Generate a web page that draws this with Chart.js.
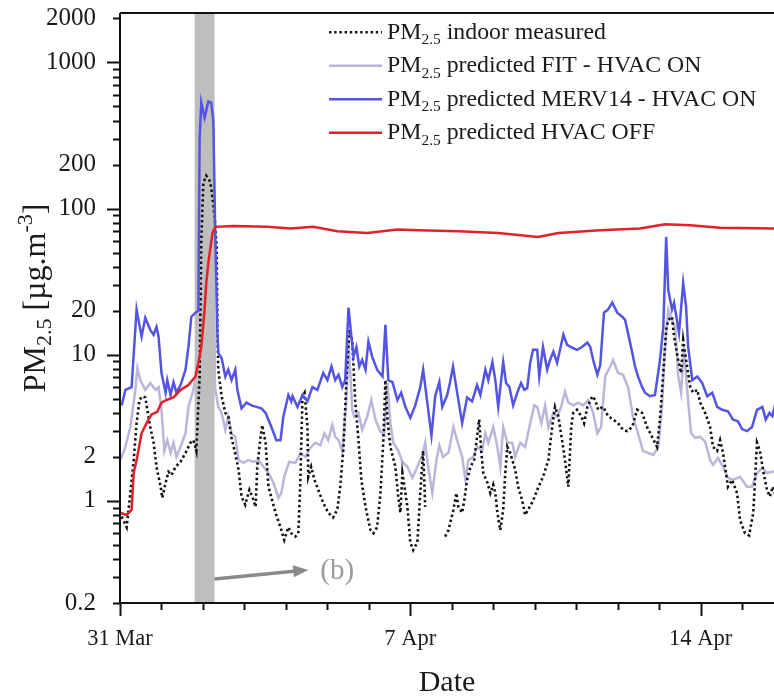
<!DOCTYPE html>
<html>
<head>
<meta charset="utf-8">
<script src="https://cdn.jsdelivr.net/npm/chart.js@4.4.1/dist/chart.umd.min.js"></script>
<style>
  html, body { margin: 0; padding: 0; background: #fff; }
  #pmChart { display: block; }
</style>
</head>
<body>
<canvas id="pmChart" width="774" height="698"></canvas>
<script>
// days since 31 Mar 00:00, PM2.5 in ug/m3
const seriesNames = [
    "PM2.5 indoor measured",
    "PM2.5 predicted FIT - HVAC ON",
    "PM2.5 predicted MERV14 - HVAC ON",
    "PM2.5 predicted HVAC OFF"
];

const xTickDays = [0, 7, 14];
const xTickLabels = ["31 Mar", "7 Apr", "14 Apr"];
const yTickValues = [0.2, 1, 2, 10, 20, 100, 200, 1000, 2000];
const yTickLabels = ["0.2", "1", "2", "10", "20", "100", "200", "1000", "2000"];

// shaded event window (days)
const bandDays = [1.80, 2.28];

const measured = [
    [0.04,0.78],[0.16,0.66],[0.25,1.13],[0.33,1.9],[0.40,3.4],[0.47,4.9],[0.54,5.2],[0.61,5.1],[0.66,4.2],[0.73,3.2],
    [0.81,2.5],[0.88,1.71],[0.98,1.25],[1.02,1.05],[1.10,1.33],[1.17,1.58],[1.24,1.5],[1.34,1.71],[1.46,1.85],[1.58,2.13],
    [1.70,2.5],[1.77,2.6],[1.84,2.2],[1.92,7.1],[1.96,60],[2.01,150],[2.08,168],[2.15,158],[2.20,139],[2.28,90],
    [2.33,55],[2.35,15],[2.37,7.9],[2.45,5.2],[2.54,4.0],[2.61,3.8],[2.69,2.7],[2.78,2.1],[2.86,1.63],[2.93,1.07],
    [3.02,0.94],[3.12,1.19],[3.19,1.07],[3.27,0.91],[3.31,1.71],[3.39,2.74],[3.43,3.3],[3.51,2.5],[3.58,1.25],[3.75,0.83],
    [3.87,0.66],[3.96,0.54],[4.06,0.66],[4.13,0.6],[4.23,0.57],[4.30,0.6],[4.35,1.39],[4.40,5.2],[4.45,5.5],[4.52,3.2],
    [4.54,1.46],[4.61,1.71],[4.69,1.39],[4.78,1.19],[4.90,0.97],[5.02,0.83],[5.14,0.77],[5.24,0.87],[5.31,1.25],[5.39,2.34],
    [5.46,6.7],[5.53,14.8],[5.60,12.6],[5.67,4.9],[5.75,2.6],[5.82,1.39],[5.92,0.91],[6.04,0.63],[6.11,0.6],[6.20,0.66],
    [6.28,1.13],[6.35,2.6],[6.40,6.7],[6.45,3.6],[6.52,2.34],[6.64,1.71],[6.71,1.07],[6.76,0.83],[6.81,1.55],[6.86,1.25],
    [6.93,0.91],[7.00,0.52],[7.07,0.46],[7.17,0.52],[7.24,1.13],[7.31,2.2],[7.36,0.91],[7.45,null],[7.84,0.57],[7.92,0.63],
    [8.04,0.87],[8.11,1.13],[8.16,0.91],[8.25,0.83],[8.30,1.0],[8.37,1.39],[8.45,1.71],[8.54,1.9],[8.61,2.74],[8.66,3.6],
    [8.71,2.2],[8.76,1.55],[8.86,1.33],[8.93,1.13],[9.00,1.29],[9.05,1.13],[9.10,0.83],[9.17,0.63],[9.24,0.87],[9.29,1.55],
    [9.34,2.34],[9.41,2.13],[9.53,1.63],[9.60,1.25],[9.70,1.0],[9.77,0.8],[9.84,0.87],[9.96,1.0],[10.08,1.23],[10.20,1.46],
    [10.33,1.9],[10.42,3.2],[10.49,4.4],[10.57,3.8],[10.66,2.6],[10.73,1.9],[10.81,1.25],[10.88,3.2],[10.93,4.0],[11.02,4.2],
    [11.12,3.8],[11.19,3.4],[11.27,4.4],[11.39,5.2],[11.46,4.9],[11.53,4.2],[11.65,4.4],[11.77,3.8],[11.89,3.6],[12.01,3.4],
    [12.13,3.06],[12.23,3.0],[12.35,3.2],[12.47,4.2],[12.59,4.0],[12.71,3.2],[12.83,2.74],[12.95,2.34],[13.02,3.6],[13.10,7.5],
    [13.17,14.8],[13.22,17.3],[13.31,18.2],[13.36,13.3],[13.46,9.2],[13.53,7.5],[13.58,12.6],[13.65,9.2],[13.75,6.0],[13.82,5.5],
    [13.92,5.75],[13.99,4.7],[14.11,4.0],[14.23,3.2],[14.30,2.34],[14.40,2.2],[14.47,2.6],[14.54,2.13],[14.66,1.25],[14.76,1.39],
    [14.88,1.13],[14.95,0.74],[15.07,0.6],[15.17,0.58],[15.27,0.83],[15.36,2.5],[15.43,2.2],[15.52,1.55],[15.60,1.19],[15.67,1.07],
    [15.74,1.25],[15.80,1.1]
];

const fitHvacOn = [
    [0.01,1.9],[0.13,2.34],[0.25,3.2],[0.37,5.75],[0.42,8.1],[0.49,6.7],[0.61,5.75],[0.73,6.4],[0.86,5.75],[0.93,6.0],
    [1.00,4.2],[1.07,2.2],[1.14,2.6],[1.22,2.13],[1.29,2.5],[1.36,2.0],[1.46,2.34],[1.58,2.9],[1.65,4.4],[1.75,5.5],
    [1.82,6.7],[1.90,20],[1.95,300],[2.05,400],[2.15,420],[2.25,200],[2.29,6],[2.37,4.4],[2.45,4.0],[2.54,3.06],
    [2.61,3.76],[2.69,2.9],[2.78,2.74],[2.86,1.9],[2.98,1.82],[3.10,1.9],[3.22,1.85],[3.34,1.9],[3.46,1.71],[3.58,1.55],
    [3.70,1.33],[3.82,1.05],[3.89,1.13],[3.96,1.46],[4.08,1.85],[4.23,1.82],[4.35,2.13],[4.47,2.0],[4.59,2.3],[4.71,2.5],
    [4.83,2.4],[4.93,2.9],[5.02,2.6],[5.12,3.3],[5.19,2.74],[5.27,2.6],[5.36,2.17],[5.46,4.9],[5.51,12.6],[5.60,4.2],
    [5.65,3.76],[5.75,4.0],[5.84,3.06],[5.96,3.76],[6.06,4.9],[6.16,3.6],[6.28,2.97],[6.37,2.83],[6.45,6.4],[6.52,3.4],
    [6.59,2.5],[6.71,2.2],[6.81,1.85],[6.93,1.71],[7.05,1.44],[7.17,1.71],[7.29,2.06],[7.36,2.5],[7.43,1.71],[7.53,1.13],
    [7.63,1.9],[7.70,2.4],[7.79,2.0],[7.92,2.13],[8.04,3.2],[8.13,2.6],[8.25,2.0],[8.33,1.39],[8.40,1.9],[8.52,2.0],
    [8.61,2.34],[8.73,2.2],[8.81,2.9],[8.88,2.5],[9.00,3.2],[9.10,2.34],[9.17,1.71],[9.24,3.2],[9.34,2.5],[9.46,2.5],
    [9.53,2.0],[9.65,2.5],[9.77,2.34],[9.89,3.4],[9.99,4.5],[10.06,4.4],[10.16,3.4],[10.25,4.5],[10.33,3.2],[10.45,4.0],
    [10.54,3.76],[10.64,4.4],[10.73,5.6],[10.81,4.7],[10.93,4.5],[11.05,4.7],[11.17,4.5],[11.29,4.9],[11.41,4.0],[11.51,2.9],
    [11.60,3.2],[11.70,7.1],[11.82,8.3],[11.89,9.2],[12.01,7.5],[12.13,7.3],[12.25,6.0],[12.37,3.76],[12.49,2.9],[12.61,2.2],
    [12.73,2.13],[12.86,2.06],[12.98,2.34],[13.07,4.4],[13.14,11.3],[13.22,20.4],[13.31,17.3],[13.39,15.5],[13.46,7.1],[13.53,5.5],
    [13.60,11.3],[13.67,6.0],[13.77,2.9],[13.87,2.7],[13.99,2.74],[14.11,2.54],[14.23,1.9],[14.30,1.76],[14.42,1.97],[14.54,1.71],
    [14.66,1.44],[14.78,1.39],[14.95,1.46],[15.12,1.25],[15.24,1.25],[15.36,1.55],[15.49,1.68],[15.60,1.55],[15.73,1.58],[15.80,1.6]
];

const merv14HvacOn = [
    [0.04,4.5],[0.13,5.75],[0.28,6.0],[0.40,20.4],[0.52,13.3],[0.61,17.9],[0.73,14.8],[0.81,13.7],[0.88,15.5],[0.93,13.3],
    [1.00,7.5],[1.10,5.5],[1.14,6.7],[1.22,5.3],[1.29,6.5],[1.36,5.5],[1.46,6.2],[1.58,7.9],[1.65,11.3],[1.72,18.2],
    [1.82,19.4],[1.89,20],[1.92,300],[1.96,532],[2.04,418],[2.13,540],[2.20,530],[2.25,400],[2.30,60],[2.35,14.1],
    [2.37,10.3],[2.45,9.5],[2.54,7.1],[2.61,7.9],[2.69,6.7],[2.78,7.9],[2.83,5.75],[2.93,4.3],[3.05,4.7],[3.17,4.5],
    [3.29,4.4],[3.41,4.3],[3.51,4.0],[3.65,3.2],[3.77,2.6],[3.87,2.6],[3.94,3.8],[4.06,5.3],[4.13,4.8],[4.16,5.2],
    [4.28,4.4],[4.40,5.3],[4.52,4.8],[4.64,6.0],[4.76,5.75],[4.90,7.5],[5.00,6.7],[5.10,8.3],[5.19,6.7],[5.27,7.3],
    [5.36,6.0],[5.43,6.7],[5.51,21.0],[5.58,13.3],[5.63,9.7],[5.70,11.3],[5.77,8.3],[5.84,9.2],[5.92,7.9],[5.99,12.3],
    [6.08,9.7],[6.20,7.9],[6.33,7.1],[6.40,16.0],[6.47,6.7],[6.57,6.5],[6.69,4.9],[6.78,5.5],[6.88,4.4],[7.00,3.7],
    [7.12,4.5],[7.24,6.0],[7.31,7.9],[7.41,4.7],[7.51,2.8],[7.60,5.2],[7.70,6.5],[7.77,4.4],[7.89,5.3],[7.96,6.5],
    [8.03,8.3],[8.13,5.5],[8.25,3.4],[8.37,5.1],[8.49,4.8],[8.61,6.2],[8.69,5.3],[8.81,7.9],[8.88,6.7],[8.98,8.9],
    [9.05,6.7],[9.12,4.4],[9.24,8.9],[9.31,6.4],[9.39,6.0],[9.48,4.5],[9.58,5.5],[9.67,6.4],[9.75,5.75],[9.82,5.9],
    [9.89,8.8],[9.96,10.8],[10.06,10.8],[10.11,7.1],[10.20,11.3],[10.30,7.9],[10.37,9.2],[10.45,10.5],[10.54,8.8],[10.61,10.8],
    [10.69,13.7],[10.78,11.7],[10.90,11.2],[11.02,10.8],[11.14,11.3],[11.27,12.1],[11.34,11.3],[11.41,9.2],[11.51,7.3],[11.58,8.5],
    [11.67,19.4],[11.77,20.4],[11.87,22.7],[11.99,19.4],[12.11,18.2],[12.18,17.3],[12.30,12.1],[12.42,8.3],[12.49,7.1],[12.59,6.0],
    [12.66,5.5],[12.78,5.2],[12.90,5.3],[13.02,9.2],[13.10,15.3],[13.17,64],[13.22,27.8],[13.31,20.4],[13.36,22.7],[13.48,14.1],
    [13.58,31],[13.65,21.3],[13.70,11.3],[13.80,6.7],[13.92,7.1],[14.04,6.4],[14.16,5.2],[14.28,5.5],[14.40,4.4],[14.52,4.2],
    [14.66,4.1],[14.78,3.6],[14.90,3.5],[15.00,3.1],[15.12,3.0],[15.24,3.2],[15.36,4.2],[15.49,4.4],[15.57,3.6],[15.66,4.0],
    [15.73,3.8],[15.80,4.6]
];

const hvacOff = [
    [0.00,0.83],[0.16,0.8],[0.28,0.87],[0.33,1.55],[0.40,1.9],[0.52,2.9],[0.64,3.4],[0.76,3.9],[0.90,4.07],[1.00,4.7],
    [1.12,4.9],[1.29,5.1],[1.46,5.75],[1.65,6.2],[1.82,7.1],[1.89,8.8],[1.96,11.3],[2.04,20.4],[2.08,31],[2.13,42.5],
    [2.23,68],[2.30,75],[2.73,76],[3.55,75],[4.11,73],[4.66,75],[5.24,70],[5.96,68],[6.69,72],[7.20,71],
    [8.16,70],[9.12,68],[10.08,64],[10.57,68],[11.58,71],[12.54,73],[13.14,78],[13.75,77],[14.47,74],[15.80,73]
];

const serif = "'Liberation Serif', 'Times New Roman', serif";
const toPoints = arr => arr.map(p => ({ x: p[0], y: p[1] }));

// band, axes, ticks, legend, y title and the (b) arrow
const decorPlugin = {
    id: "decor",
    afterDatasetDraw(chart, args) {
        if (args.index !== 1) return;   // right after the FIT line
        const { ctx, chartArea, scales: { x } } = chart;
        const x0 = x.getPixelForValue(bandDays[0]);
        const x1 = x.getPixelForValue(bandDays[1]);
        ctx.save();
        ctx.fillStyle = "#bebebe";
        ctx.fillRect(x0, chartArea.top, x1 - x0, chartArea.bottom - chartArea.top);
        ctx.restore();
    },
    afterDraw(chart) {
        const { ctx, chartArea: area, scales: { x, y } } = chart;
        ctx.save();

        // axes + top frame
        ctx.strokeStyle = "#111";
        ctx.lineWidth = 2;
        ctx.beginPath();
        ctx.moveTo(area.left, area.top);
        ctx.lineTo(area.right, area.top);
        ctx.moveTo(area.left, area.top);
        ctx.lineTo(area.left, area.bottom);
        ctx.lineTo(area.right, area.bottom);
        ctx.stroke();

        // y ticks: long at decades, short otherwise
        ctx.beginPath();
        for (let e = -1; e <= 3; e++) {
            for (let m = 1; m <= 9; m++) {
                const v = m * Math.pow(10, e);
                if (v < y.min * 0.999 || v > y.max) continue;
                const py = Math.round(y.getPixelForValue(v)) + 0.5;
                const len = m === 1 ? 13 : 7;
                ctx.moveTo(area.left - len, py);
                ctx.lineTo(area.left, py);
            }
        }
        // x ticks: one per day
        for (let d = 0; d <= Math.floor(x.max); d++) {
            const px = Math.round(x.getPixelForValue(d)) + 0.5;
            const len = xTickDays.includes(d) ? 13 : 7;
            ctx.moveTo(px, area.bottom);
            ctx.lineTo(px, area.bottom + len);
        }
        ctx.stroke();

        // legend
        const legX = 329, legLen = 53, legTop = 32.3, legGap = 33.5;
        chart.data.datasets.forEach((ds, i) => {
            const ly = legTop + i * legGap;
            ctx.save();
            ctx.strokeStyle = ds.borderColor;
            ctx.lineWidth = ds.borderWidth;
            ctx.setLineDash(ds.borderDash || []);
            ctx.beginPath();
            ctx.moveTo(legX, ly);
            ctx.lineTo(legX + legLen, ly);
            ctx.stroke();
            ctx.restore();

            ctx.fillStyle = "#1a1a1a";
            ctx.textBaseline = "alphabetic";
            let tx = legX + legLen + 5;
            const base = ly + 6.5;
            ctx.font = "23.8px " + serif;
            ctx.fillText("PM", tx, base);
            tx += ctx.measureText("PM").width;
            ctx.font = "15.5px " + serif;
            ctx.fillText("2.5", tx, base + 5.5);
            tx += ctx.measureText("2.5").width;
            ctx.font = "23.8px " + serif;
            ctx.fillText(ds.label.slice(5), tx, base);
        });

        // y axis title with sub/superscript
        ctx.save();
        ctx.translate(45, 298);
        ctx.rotate(-Math.PI / 2);
        ctx.fillStyle = "#1a1a1a";
        const big = "32px " + serif, small = "22px " + serif;
        const parts = [
            ["PM", big, 0], ["2.5", small, 6], [" [\u00b5g.m", big, 0], ["-3", small, -13], ["]", big, 0]
        ];
        let total = 0;
        parts.forEach(p => { ctx.font = p[1]; total += ctx.measureText(p[0]).width; });
        let tx = -total / 2;
        parts.forEach(p => {
            ctx.font = p[1];
            ctx.fillText(p[0], tx, p[2]);
            tx += ctx.measureText(p[0]).width;
        });
        ctx.restore();

        // arrow to panel (b)
        const ax0 = x.getPixelForValue(bandDays[1]), ay0 = y.getPixelForValue(0.292);
        const ax1 = x.getPixelForValue(4.54), ay1 = y.getPixelForValue(0.337);
        const ang = Math.atan2(ay1 - ay0, ax1 - ax0);
        ctx.strokeStyle = "#8a8a8a";
        ctx.fillStyle = "#8a8a8a";
        ctx.lineWidth = 3.5;
        ctx.beginPath();
        ctx.moveTo(ax0, ay0);
        ctx.lineTo(ax1 - 12 * Math.cos(ang), ay1 - 12 * Math.sin(ang));
        ctx.stroke();
        ctx.beginPath();
        ctx.moveTo(ax1, ay1);
        ctx.lineTo(ax1 - 15 * Math.cos(ang) + 6 * Math.sin(ang), ay1 - 15 * Math.sin(ang) - 6 * Math.cos(ang));
        ctx.lineTo(ax1 - 15 * Math.cos(ang) - 6 * Math.sin(ang), ay1 - 15 * Math.sin(ang) + 6 * Math.cos(ang));
        ctx.closePath();
        ctx.fill();

        ctx.fillStyle = "#9a9a9a";
        ctx.font = "29px " + serif;
        ctx.textBaseline = "middle";
        ctx.fillText("(b)", x.getPixelForValue(4.83), y.getPixelForValue(0.33));

        ctx.restore();
    }
};

const ctx = document.getElementById("pmChart").getContext("2d");

new Chart(ctx, {
    type: "line",
    data: {
        datasets: [
            {
                label: seriesNames[0],
                data: toPoints(measured),
                borderColor: "#111",
                borderWidth: 2.6,
                borderDash: [2.4, 2.8],
                order: 3
            },
            {
                label: seriesNames[1],
                data: toPoints(fitHvacOn),
                borderColor: "#b9b6da",
                borderWidth: 2.5,
                order: 4
            },
            {
                label: seriesNames[2],
                data: toPoints(merv14HvacOn),
                borderColor: "#5454e2",
                borderWidth: 2.5,
                order: 2
            },
            {
                label: seriesNames[3],
                data: toPoints(hvacOff),
                borderColor: "#e0212a",
                borderWidth: 2.5,
                order: 1
            }
        ]
    },
    options: {
        responsive: false,
        animation: false,
        spanGaps: false,
        layout: { padding: { top: 13, right: 0, bottom: 0, left: 0 } },
        elements: {
            point: { radius: 0, hoverRadius: 0 },
            line: { tension: 0, fill: false }
        },
        plugins: {
            legend: { display: false },
            tooltip: { enabled: false }
        },
        scales: {
            x: {
                type: "linear",
                min: 0,
                max: 15.77,
                grid: { display: false, drawTicks: false },
                border: { display: false },
                afterBuildTicks: s => { s.ticks = xTickDays.map(v => ({ value: v })); },
                afterFit: s => { s.height = 95; s.paddingLeft = 0; s.paddingRight = 0; },
                ticks: {
                    callback: (v, i) => xTickLabels[i],
                    font: { family: serif, size: 22.5 },
                    color: "#1a1a1a",
                    padding: 23,
                    maxRotation: 0,
                    autoSkip: false
                },
                title: {
                    display: true,
                    text: "Date",
                    font: { family: serif, size: 30, lineHeight: 1 },
                    color: "#1a1a1a",
                    padding: { top: 0, bottom: 0 }
                }
            },
            y: {
                type: "logarithmic",
                min: 0.2,
                max: 2180,
                grid: { display: false, drawTicks: false },
                border: { display: false },
                afterBuildTicks: s => { s.ticks = yTickValues.map(v => ({ value: v })); },
                afterFit: s => { s.width = 120; s.paddingTop = 0; s.paddingBottom = 0; },
                ticks: {
                    callback: (v, i) => yTickLabels[i],
                    font: { family: serif, size: 25 },
                    color: "#1a1a1a",
                    padding: 24,
                    autoSkip: false
                }
            }
        }
    },
    plugins: [decorPlugin]
});
</script>
</body>
</html>
